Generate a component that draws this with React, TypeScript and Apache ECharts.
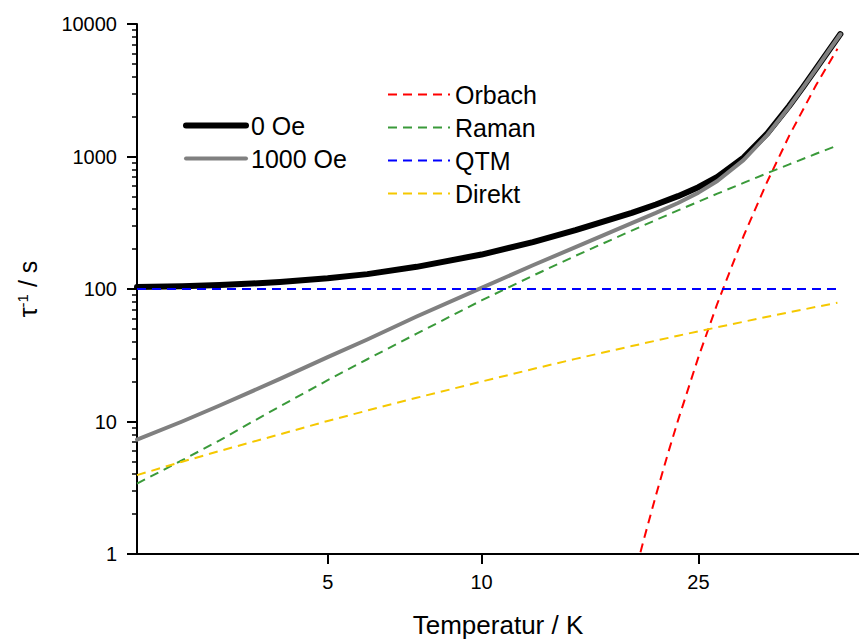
import React, { useEffect, useRef } from 'react';
import * as echarts from 'echarts';

// Temperature axis: the reference uses a slightly stretched log-like scale,
// reproduced here with a power transform of T.
const P = 0.08;
const T_MIN = 2;
const T_MAX = 47.3;

const xTickTemps = [5, 10, 25];
const yMinorTicks = [
  2, 3, 4, 5, 6, 7, 8, 9,
  20, 30, 40, 50, 60, 70, 80, 90,
  200, 300, 400, 500, 600, 700, 800, 900,
  2000, 3000, 4000, 5000, 6000, 7000, 8000, 9000,
];

// measured curves
const tempMeasured = [2, 2.5, 3, 3.5, 4, 5, 6, 7.5, 10, 12.5, 15, 19, 21, 23, 25, 27, 30, 33, 36, 38, 40, 42, 44];
const rate0Oe = [103.4, 105.1, 107.2, 109.9, 113, 120.5, 129.5, 147, 182, 226, 278, 376, 434, 502, 586, 701, 982, 1497, 2410, 3336, 4594, 6257, 8390];
const rate1000Oe = [7.3, 10.0, 13.2, 16.9, 21.0, 30.6, 41.6, 62, 102, 151, 207, 314, 375, 446, 534, 653, 938, 1459, 2377, 3306, 4568, 6233, 8370];

// fit components
const tempFit = [2, 2.5, 3, 3.5, 4, 5, 6, 7.5, 10, 12.5, 15, 19, 23, 25, 27, 30, 33, 36, 40, 43.5];
const raman = [3.4, 5.1, 7.2, 9.9, 13.0, 20.5, 29.5, 46, 82, 126, 178, 276, 392, 456, 524, 632, 749, 873, 1048, 1212];
const direkt = [3.94, 4.97, 5.99, 7.0, 8.0, 10.1, 12.1, 15.1, 20.0, 24.9, 29.7, 37.1, 44.4, 47.9, 51.4, 56.6, 61.7, 66.7, 73.2, 78.7];
const tempQtm = [2, 43.5];
const qtm = [100, 100];
const tempOrbach = [19.7, 20, 21, 22, 23, 25, 27, 30, 33, 36, 40, 43.5];
const orbach = [1.03, 1.31, 2.77, 5.48, 10.2, 30.6, 77.7, 250, 648, 1437, 3446, 6497];

const FONT = "'Liberation Sans', Arial, Helvetica, sans-serif";

const tx = (t: number) => Math.pow(t, P);
const pairs = (ts: number[], vs: number[]) => ts.map((t, i) => [tx(t), vs[i]]);

export default function App() {
  const ref = useRef<HTMLDivElement>(null);

  useEffect(() => {
    if (!ref.current) return;
    const chart = echarts.init(ref.current, undefined, { renderer: 'svg' });
    const dash = [9, 6];
    const legendCommon = {
      orient: 'vertical',
      padding: 0,
      itemHeight: 24,
      itemGap: 8,
      selectedMode: false,
      itemStyle: { opacity: 0 },
      textStyle: { fontSize: 25, color: '#000', fontFamily: FONT },
    };
    const option: any = {
      animation: false,
      backgroundColor: '#ffffff',
      textStyle: { fontFamily: FONT, color: '#000' },
      grid: { left: 137, top: 24, width: 722, height: 537, containLabel: false },
      legend: [
        {
          ...legendCommon,
          data: [
            { name: '0 Oe', lineStyle: { width: 6, color: '#000000', cap: 'round' } },
            { name: '1000 Oe', lineStyle: { width: 4, color: '#808080', cap: 'round' } },
          ],
          left: 183,
          top: 113,
          itemWidth: 60,
        },
        {
          ...legendCommon,
          data: ['Orbach', 'Raman', 'QTM', 'Direkt'],
          left: 387,
          top: 82,
          itemWidth: 62,
        },
      ],
      xAxis: {
        type: 'value',
        min: tx(T_MIN),
        max: tx(T_MAX),
        name: 'Temperatur / K',
        nameLocation: 'middle',
        nameGap: 58,
        nameTextStyle: { fontSize: 26, color: '#000', fontFamily: FONT },
        axisLine: { show: true, onZero: false, lineStyle: { color: '#000', width: 2 } },
        axisTick: {
          show: true,
          length: 10,
          customValues: xTickTemps.map(tx),
          lineStyle: { color: '#000', width: 2 },
        },
        axisLabel: {
          show: true,
          customValues: xTickTemps.map(tx),
          fontSize: 20,
          color: '#000',
          margin: 18,
          formatter: (v: number) => String(Math.round(Math.pow(v, 1 / P))),
        },
        splitLine: { show: false },
      },
      yAxis: [
        {
          type: 'log',
          logBase: 10,
          min: 1,
          max: 10000,
          position: 'left',
          name: 'τ{sup|-1} / s',
          nameLocation: 'middle',
          nameRotate: 90,
          nameGap: 97,
          nameTextStyle: {
            fontSize: 25,
            color: '#000',
            fontFamily: FONT,
            rich: {
              sup: { fontSize: 15, color: '#000', fontFamily: FONT, verticalAlign: 'bottom', padding: [0, 0, 10, 0] },
            },
          },
          axisLine: { show: true, lineStyle: { color: '#000', width: 2 } },
          axisTick: { show: true, length: 10, lineStyle: { color: '#000', width: 2 } },
          minorTick: { show: false },
          axisLabel: {
            fontSize: 20,
            color: '#000',
            margin: 20,
            formatter: (v: number) => String(Math.round(v)),
          },
          splitLine: { show: false },
        },
        {
          type: 'value',
          min: 0,
          max: 4,
          position: 'left',
          offset: 0,
          axisLine: { show: false },
          axisLabel: { show: false },
          splitLine: { show: false },
          axisTick: {
            show: true,
            length: 5,
            customValues: yMinorTicks.map((v) => Math.log10(v)),
            lineStyle: { color: '#000', width: 1.5 },
          },
        },
      ],
      series: [
        {
          name: '0 Oe',
          type: 'line',
          data: pairs(tempMeasured, rate0Oe),
          symbol: 'none',
          showSymbol: false,
          lineStyle: { color: '#000000', width: 6, cap: 'round', join: 'round' },
          itemStyle: { color: '#000000' },
          z: 2,
        },
        {
          name: '1000 Oe',
          type: 'line',
          data: pairs(tempMeasured, rate1000Oe),
          symbol: 'none',
          showSymbol: false,
          lineStyle: { color: '#808080', width: 4, cap: 'round', join: 'round' },
          itemStyle: { color: '#808080' },
          z: 3,
        },
        {
          name: 'Orbach',
          type: 'line',
          data: pairs(tempOrbach, orbach),
          symbol: 'none',
          showSymbol: false,
          lineStyle: { color: '#ff0000', width: 2, type: dash },
          itemStyle: { color: '#ff0000' },
          z: 4,
        },
        {
          name: 'Raman',
          type: 'line',
          data: pairs(tempFit, raman),
          symbol: 'none',
          showSymbol: false,
          lineStyle: { color: '#3a9a3a', width: 2, type: dash },
          itemStyle: { color: '#3a9a3a' },
          z: 4,
        },
        {
          name: 'QTM',
          type: 'line',
          data: pairs(tempQtm, qtm),
          symbol: 'none',
          showSymbol: false,
          lineStyle: { color: '#0000ff', width: 2, type: dash },
          itemStyle: { color: '#0000ff' },
          z: 4,
        },
        {
          name: 'Direkt',
          type: 'line',
          data: pairs(tempFit, direkt),
          symbol: 'none',
          showSymbol: false,
          lineStyle: { color: '#f5c800', width: 2, type: dash },
          itemStyle: { color: '#f5c800' },
          z: 4,
        },
      ],
    };
    chart.setOption(option);
    return () => chart.dispose();
  }, []);

  return (
    <div
      ref={ref}
      style={{ position: 'absolute', left: 0, top: 0, width: 859, height: 643, background: '#fff' }}
    />
  );
}
